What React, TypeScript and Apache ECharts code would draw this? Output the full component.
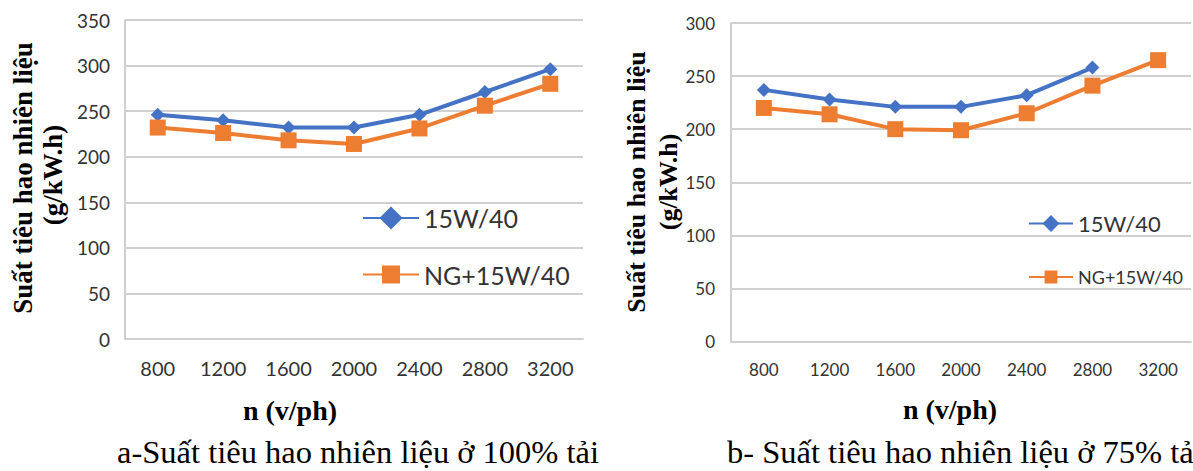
import React, { useEffect, useRef } from "react";
import * as echarts from "echarts";

// Engine speed categories (v/ph)
const speeds = ["800", "1200", "1600", "2000", "2400", "2800", "3200"];

// a) 100% load, g/kW.h
const full15W40 = [246, 240, 232, 232, 246, 271, 296];
const fullNG15W40 = [232, 226, 218, 214, 231, 256, 280];

// b) 75% load, g/kW.h
const part15W40 = [237, 228, 221, 221, 232, 258, null];
const partNG15W40 = [220, 214, 200, 199, 215, 241, 265];

const seriesNames = ["15W/40", "NG+15W/40"];
const yAxisTitle = ["Suất tiêu hao nhiên liệu", "(g/kW.h)"];
const xAxisTitle = "n (v/ph)";
const captions = [
  "a-Suất tiêu hao nhiên liệu ở 100% tải",
  "b- Suất tiêu hao nhiên liệu ở 75% tải",
];

const BLUE = "#4472C4";
const ORANGE = "#ED7D31";
const GRIDC = "#d0d0d0";
const LABELC = "#333333";
const SANS = "Lato";
const SERIF = "Liberation Serif";

export default function App() {
  const ref = useRef<HTMLDivElement>(null);

  useEffect(() => {
    if (!ref.current) return;
    const chart = echarts.init(ref.current, undefined, { renderer: "svg" });

    const yAxisBase = (max: number, fontSize: number, margin: number) => ({
      type: "value",
      min: 0,
      max,
      interval: 50,
      axisLine: { show: true, lineStyle: { color: GRIDC, width: 2 } },
      axisTick: { show: false },
      splitLine: { show: true, lineStyle: { color: GRIDC, width: 2 } },
      axisLabel: { fontFamily: SANS, fontSize, color: LABELC, margin },
    });

    const xAxisBase = (gridIndex: number, fontSize: number) => ({
      type: "category",
      gridIndex,
      data: speeds,
      boundaryGap: true,
      axisLine: { show: true, lineStyle: { color: GRIDC, width: 2 } },
      axisTick: { show: false },
      splitLine: { show: false },
      axisLabel: { fontFamily: SANS, fontSize, color: LABELC, margin: 19, interval: 0 },
    });

    const legendBase = (name: string, left: number, top: number, itemWidth: number, itemHeight: number, fontSize: number) => ({
      data: [name],
      left,
      top,
      itemWidth,
      itemHeight,
      padding: 0,
      selectedMode: false,
      textStyle: { fontFamily: SANS, fontSize, color: LABELC },
    });

    const option: any = {
      animation: false,
      backgroundColor: "#ffffff",
      grid: [
        { left: 125, top: 20, width: 458, height: 319 },
        { left: 731, top: 23, width: 460, height: 318.5 },
      ],
      xAxis: [xAxisBase(0, 20), xAxisBase(1, 17)],
      yAxis: [
        { ...yAxisBase(350, 19, 15), gridIndex: 0 },
        { ...yAxisBase(300, 17, 16), gridIndex: 1 },
      ],
      legend: [
        legendBase(seriesNames[0], 362, 205.5, 56, 29, 25),
        legendBase(seriesNames[1], 362, 262, 56, 22.5, 25),
        legendBase(seriesNames[0], 1028, 212.5, 44, 21, 22),
        legendBase(seriesNames[1], 1028, 268, 44, 16, 18),
      ],
      series: [
        {
          name: seriesNames[0], type: "line", xAxisIndex: 0, yAxisIndex: 0,
          data: full15W40, symbol: "diamond", symbolSize: 14,
          lineStyle: { color: BLUE, width: 4 }, itemStyle: { color: BLUE },
        },
        {
          name: seriesNames[1], type: "line", xAxisIndex: 0, yAxisIndex: 0,
          data: fullNG15W40, symbol: "rect", symbolSize: 16,
          lineStyle: { color: ORANGE, width: 4 }, itemStyle: { color: ORANGE },
        },
        {
          name: seriesNames[0], type: "line", xAxisIndex: 1, yAxisIndex: 1,
          data: part15W40, symbol: "diamond", symbolSize: 14,
          lineStyle: { color: BLUE, width: 4 }, itemStyle: { color: BLUE },
        },
        {
          name: seriesNames[1], type: "line", xAxisIndex: 1, yAxisIndex: 1,
          data: partNG15W40, symbol: "rect", symbolSize: 16,
          lineStyle: { color: ORANGE, width: 4 }, itemStyle: { color: ORANGE },
        },
      ],
      graphic: [
        // left chart y title
        { type: "text", x: 23, y: 178, rotation: Math.PI / 2,
          style: { text: yAxisTitle[0], fontFamily: SERIF, fontWeight: "bold", fontSize: 27, fill: "#000", align: "center", verticalAlign: "middle" } },
        { type: "text", x: 53, y: 175, rotation: Math.PI / 2,
          style: { text: yAxisTitle[1], fontFamily: SERIF, fontWeight: "bold", fontSize: 27, fill: "#000", align: "center", verticalAlign: "middle" } },
        // right chart y title
        { type: "text", x: 636, y: 182, rotation: Math.PI / 2,
          style: { text: yAxisTitle[0], fontFamily: SERIF, fontWeight: "bold", fontSize: 26, fill: "#000", align: "center", verticalAlign: "middle" } },
        { type: "text", x: 668, y: 182, rotation: Math.PI / 2,
          style: { text: yAxisTitle[1], fontFamily: SERIF, fontWeight: "bold", fontSize: 26, fill: "#000", align: "center", verticalAlign: "middle" } },
        // x titles
        { type: "text", x: 290, y: 410,
          style: { text: xAxisTitle, fontFamily: SERIF, fontWeight: "bold", fontSize: 28, fill: "#000", align: "center", verticalAlign: "middle" } },
        { type: "text", x: 950, y: 409,
          style: { text: xAxisTitle, fontFamily: SERIF, fontWeight: "bold", fontSize: 28, fill: "#000", align: "center", verticalAlign: "middle" } },
        // captions
        { type: "text", x: 117, y: 452,
          style: { text: captions[0], fontFamily: SERIF, fontSize: 32.5, fill: "#000", align: "left", verticalAlign: "middle" } },
        { type: "text", x: 727, y: 452,
          style: { text: captions[1], fontFamily: SERIF, fontSize: 32.5, fill: "#000", align: "left", verticalAlign: "middle" } },
      ],
    };

    chart.setOption(option);
    return () => chart.dispose();
  }, []);

  return (
    <div
      ref={ref}
      style={{ position: "absolute", left: 0, top: 0, width: 1193, height: 471, background: "#fff", overflow: "hidden" }}
    />
  );
}
